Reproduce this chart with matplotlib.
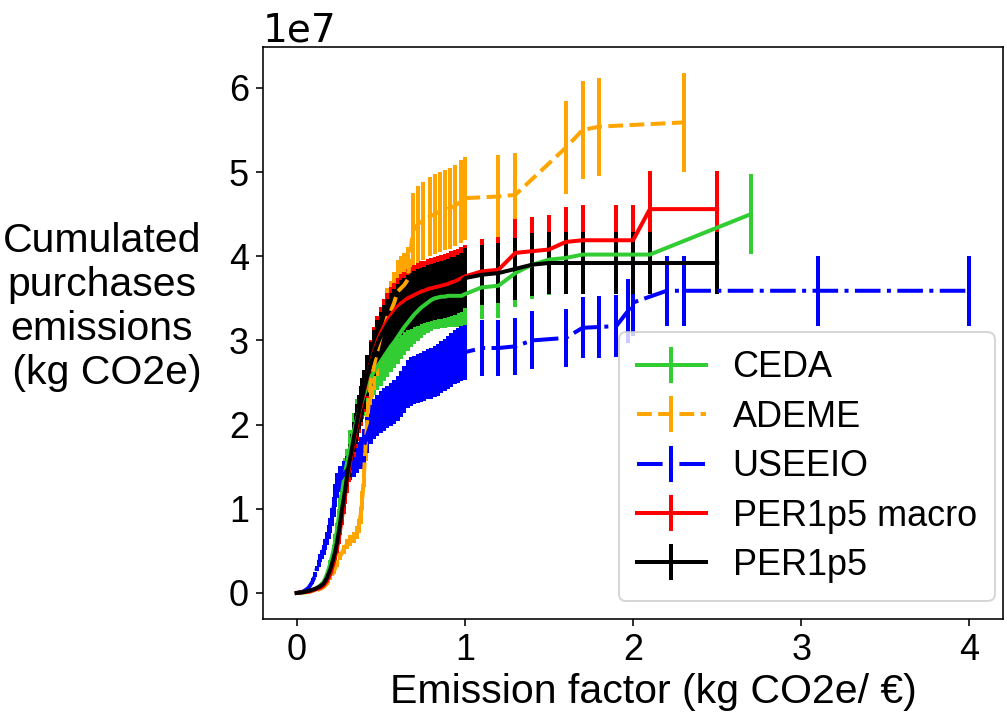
import numpy as np
import matplotlib
matplotlib.use("Agg")
import matplotlib.pyplot as plt

plt.rcParams['font.family'] = ['Liberation Sans', 'DejaVu Sans']
plt.rcParams['font.size'] = 18

# cumulated emissions (1e7 kg CO2e) vs emission factor (kg CO2e / EUR)
x_ceda = [0.00, 0.06, 0.10, 0.13, 0.16, 0.18, 0.20, 0.22, 0.23, 0.24, 0.25, 0.26, 0.27, 0.28,
          0.29, 0.30, 0.32, 0.34, 0.36, 0.38, 0.40, 0.42, 0.44, 0.46, 0.48, 0.50, 0.52, 0.54,
          0.56, 0.58, 0.60, 0.62, 0.64, 0.66, 0.68, 0.70, 0.72, 0.74, 0.76, 0.78, 0.80, 0.82,
          0.84, 0.86, 0.88, 0.90, 0.92, 0.94, 0.96, 0.98, 1.00, 1.10, 1.20, 1.30, 1.40, 1.50,
          1.60, 1.70, 1.90, 2.00, 2.10, 2.70]
y_ceda = [0.00, 0.01, 0.03, 0.07, 0.13, 0.22, 0.35, 0.52, 0.63, 0.75, 0.90, 1.05, 1.20, 1.33,
          1.45, 1.55, 1.75, 1.93, 2.08, 2.22, 2.35, 2.46, 2.56, 2.63, 2.69, 2.75, 2.81, 2.87,
          2.93, 2.98, 3.04, 3.10, 3.16, 3.21, 3.26, 3.31, 3.35, 3.39, 3.42, 3.45, 3.48, 3.50,
          3.51, 3.52, 3.52, 3.53, 3.53, 3.53, 3.53, 3.53, 3.55, 3.63, 3.65, 3.80, 3.90, 3.96,
          3.98, 4.02, 4.02, 4.02, 4.02, 4.50]

x_ademe = [0.00, 0.06, 0.10, 0.13, 0.16, 0.18, 0.20, 0.22, 0.24, 0.26, 0.28, 0.30, 0.32, 0.34,
           0.36, 0.37, 0.38, 0.39, 0.40, 0.41, 0.42, 0.43, 0.44, 0.45, 0.46, 0.48, 0.50, 0.52,
           0.54, 0.56, 0.58, 0.60, 0.62, 0.64, 0.66, 0.69, 0.72, 0.75, 0.79, 0.82, 0.85, 0.88,
           0.91, 0.94, 0.98, 1.00, 1.20, 1.30, 1.60, 1.70, 1.80, 2.30]
y_ademe = [0.00, 0.01, 0.02, 0.04, 0.07, 0.11, 0.17, 0.25, 0.35, 0.44, 0.52, 0.58, 0.62, 0.66,
           0.72, 0.80, 0.92, 1.10, 1.40, 1.75, 2.05, 2.30, 2.48, 2.60, 2.70, 2.88, 3.05, 3.15,
           3.28, 3.35, 3.45, 3.58, 3.62, 3.66, 3.72, 4.30, 4.38, 4.42, 4.47, 4.50, 4.53, 4.55,
           4.57, 4.60, 4.65, 4.69, 4.71, 4.73, 5.29, 5.50, 5.54, 5.59]

x_useeio = [0.00, 0.03, 0.05, 0.07, 0.08, 0.09, 0.10, 0.11, 0.12, 0.13, 0.14, 0.15, 0.16, 0.17,
            0.18, 0.19, 0.20, 0.21, 0.22, 0.23, 0.24, 0.26, 0.28, 0.30, 0.32, 0.34, 0.36, 0.38,
            0.40, 0.42, 0.44, 0.46, 0.48, 0.50, 0.52, 0.54, 0.56, 0.58, 0.60, 0.62, 0.64, 0.66,
            0.68, 0.70, 0.72, 0.74, 0.76, 0.78, 0.80, 0.82, 0.84, 0.86, 0.88, 0.90, 0.92, 0.94,
            0.96, 0.98, 1.00, 1.10, 1.20, 1.30, 1.40, 1.60, 1.70, 1.80, 1.90, 1.97, 2.00, 2.20,
            2.30, 3.10, 4.00]
y_useeio = [0.00, 0.01, 0.03, 0.06, 0.09, 0.12, 0.16, 0.22, 0.29, 0.35, 0.41, 0.46, 0.51, 0.58,
            0.65, 0.72, 0.80, 0.90, 1.02, 1.16, 1.28, 1.35, 1.41, 1.46, 1.51, 1.56, 1.61, 1.66,
            1.75, 1.88, 2.00, 2.07, 2.11, 2.15, 2.18, 2.21, 2.24, 2.27, 2.31, 2.36, 2.42, 2.48,
            2.51, 2.53, 2.55, 2.56, 2.58, 2.60, 2.61, 2.63, 2.65, 2.68, 2.71, 2.74, 2.77, 2.80,
            2.82, 2.84, 2.86, 2.91, 2.91, 2.93, 3.00, 3.03, 3.15, 3.16, 3.17, 3.35, 3.45, 3.59,
            3.59, 3.59, 3.59]

x_per = [0.00, 0.04, 0.08, 0.11, 0.14, 0.16, 0.18, 0.20, 0.21, 0.22, 0.23, 0.24, 0.25, 0.26,
         0.27, 0.28, 0.29, 0.30, 0.31, 0.32, 0.33, 0.34, 0.35, 0.36, 0.37, 0.38, 0.39, 0.40,
         0.42, 0.44, 0.46, 0.48, 0.50, 0.52, 0.54, 0.56, 0.58, 0.60, 0.62, 0.64, 0.66, 0.68,
         0.70, 0.72, 0.74, 0.76, 0.78, 0.80, 0.82, 0.84, 0.86, 0.88, 0.90, 0.92, 0.94, 0.96,
         0.98, 1.00, 1.10, 1.20, 1.30, 1.40, 1.50, 1.60, 1.70, 1.90, 2.00, 2.10, 2.50]
y_macro = [0.00, 0.01, 0.02, 0.04, 0.06, 0.09, 0.14, 0.22, 0.29, 0.36, 0.44, 0.53, 0.64, 0.77,
           0.90, 1.04, 1.18, 1.32, 1.46, 1.58, 1.69, 1.80, 1.91, 2.01, 2.11, 2.21, 2.30, 2.39,
           2.57, 2.73, 2.87, 2.99, 3.09, 3.17, 3.24, 3.30, 3.35, 3.40, 3.44, 3.47, 3.50, 3.52,
           3.54, 3.56, 3.58, 3.59, 3.61, 3.62, 3.63, 3.64, 3.65, 3.66, 3.67, 3.69, 3.70, 3.72,
           3.74, 3.76, 3.82, 3.84, 4.04, 4.06, 4.08, 4.17, 4.19, 4.19, 4.19, 4.56, 4.56]
y_per = [0.00, 0.01, 0.03, 0.05, 0.08, 0.11, 0.18, 0.28, 0.35, 0.42, 0.50, 0.60, 0.72, 0.85,
         1.00, 1.12, 1.25, 1.40, 1.52, 1.62, 1.73, 1.85, 1.95, 2.05, 2.15, 2.25, 2.33, 2.42,
         2.58, 2.72, 2.85, 2.96, 3.05, 3.12, 3.19, 3.25, 3.30, 3.35, 3.39, 3.42, 3.45, 3.47,
         3.49, 3.51, 3.53, 3.54, 3.56, 3.57, 3.58, 3.59, 3.60, 3.61, 3.62, 3.64, 3.65, 3.67,
         3.69, 3.74, 3.78, 3.80, 3.85, 3.90, 3.92, 3.92, 3.92, 3.92, 3.92, 3.92, 3.92]

# relative uncertainty of each database
unc = {'CEDA': 0.105, 'ADEME': 0.105, 'USEEIO': 0.115, 'PER1p5 macro': 0.10, 'PER1p5': 0.095}

series = [
    ('CEDA', x_ceda, y_ceda, 'limegreen', '-'),
    ('ADEME', x_ademe, y_ademe, 'orange', '--'),
    ('USEEIO', x_useeio, y_useeio, 'blue', '-.'),
    ('PER1p5 macro', x_per, y_macro, 'red', '-'),
    ('PER1p5', x_per, y_per, 'black', '-'),
]

fig = plt.figure(figsize=(1007 / 144, 722 / 144), dpi=144)
ax = fig.add_axes([0.2612, 0.1427, 0.7349, 0.7922])

for name, xs, ys, col, ls in series:
    y = np.array(ys) * 1e7
    ax.errorbar(xs, y, yerr=unc[name] * y, color=col, ls=ls, lw=2, elinewidth=2, label=name)

ax.set_xlabel('Emission factor (kg CO2e/ €)', fontsize=20.5)
ax.xaxis.set_label_coords(0.528, -0.095)
ax.set_ylabel('Cumulated\npurchases\nemissions\n (kg CO2e)', rotation=0, fontsize=20.5,
              ha='center', va='center', multialignment='center')
ax.yaxis.set_label_coords(-0.218, 0.545)
ax.yaxis.get_offset_text().set_fontfamily('DejaVu Sans')
ax.yaxis.get_offset_text().set_fontsize(19.5)
ax.legend(loc='lower right', bbox_to_anchor=(1.013, 0.0), labelspacing=0.4,
          handlelength=1.9, handletextpad=0.75, borderpad=0.5)

fig.savefig('out.png', dpi=144)
